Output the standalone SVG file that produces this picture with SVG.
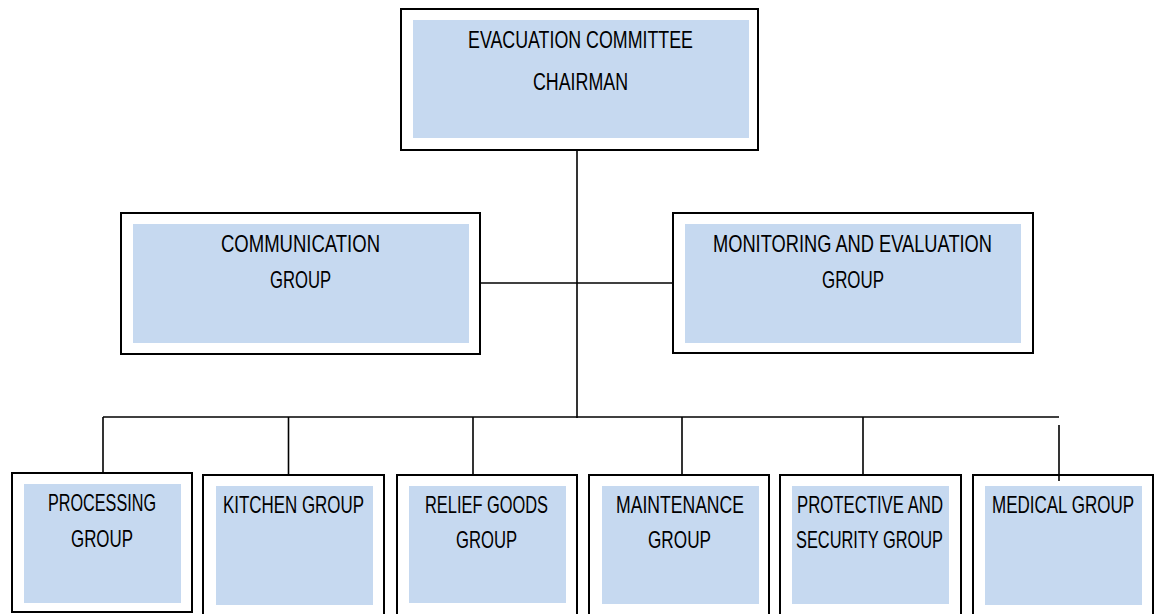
<svg xmlns="http://www.w3.org/2000/svg" width="1157" height="614" viewBox="0 0 1157 614">
<style>
.outer{fill:#fff;stroke:#000;stroke-width:2}
.inner{fill:#c6d9f0;stroke:none}
.t{font-family:"Liberation Sans",Arial,sans-serif;font-size:24px;fill:#000;text-anchor:middle}
.c{stroke:#000;stroke-width:1.6;fill:none}
</style>
<rect width="1157" height="614" fill="#fff"/>
<g id="connectors">
<line class="c" x1="577" y1="150" x2="577" y2="418"/>
<line class="c" x1="480" y1="283" x2="673" y2="283"/>
<line class="c" x1="103" y1="417" x2="1059" y2="417"/>
<line class="c" x1="103" y1="417" x2="103" y2="474"/>
<line class="c" x1="288.5" y1="417" x2="288.5" y2="476"/>
<line class="c" x1="473" y1="417" x2="473" y2="476"/>
<line class="c" x1="682" y1="417" x2="682" y2="476"/>
<line class="c" x1="863" y1="417" x2="863" y2="476"/>
</g>
<g id="chairman">
<rect class="outer" x="401" y="9" width="357" height="141"/>
<rect class="inner" x="413" y="20" width="336" height="118"/>
<text class="t" style="font-size:23px" x="580.5" y="48" textLength="225" lengthAdjust="spacingAndGlyphs">EVACUATION COMMITTEE</text>
<text class="t" style="font-size:23px" x="580.5" y="90" textLength="95" lengthAdjust="spacingAndGlyphs">CHAIRMAN</text>
</g>
<g id="communication">
<rect class="outer" x="121" y="213" width="359" height="141"/>
<rect class="inner" x="133" y="224" width="336" height="119"/>
<text class="t" x="300.5" y="252" textLength="159" lengthAdjust="spacingAndGlyphs">COMMUNICATION</text>
<text class="t" x="300.5" y="288" textLength="61" lengthAdjust="spacingAndGlyphs">GROUP</text>
</g>
<g id="monitoring">
<rect class="outer" x="673" y="213" width="360" height="140"/>
<rect class="inner" x="685" y="224" width="336" height="119"/>
<text class="t" x="852.5" y="252" textLength="279" lengthAdjust="spacingAndGlyphs">MONITORING AND EVALUATION</text>
<text class="t" x="853" y="288" textLength="62" lengthAdjust="spacingAndGlyphs">GROUP</text>
</g>
<g id="processing">
<rect class="outer" x="12" y="473" width="180" height="139"/>
<rect class="inner" x="24" y="484" width="157" height="119"/>
<text class="t" x="102" y="511" textLength="108" lengthAdjust="spacingAndGlyphs">PROCESSING</text>
<text class="t" x="102" y="547" textLength="62" lengthAdjust="spacingAndGlyphs">GROUP</text>
</g>
<g id="kitchen">
<rect class="outer" x="203" y="475" width="181" height="150"/>
<rect class="inner" x="216" y="486" width="157" height="119"/>
<text class="t" x="293.5" y="513" textLength="141" lengthAdjust="spacingAndGlyphs">KITCHEN GROUP</text>
</g>
<g id="relief">
<rect class="outer" x="397" y="475" width="180" height="150"/>
<rect class="inner" x="409" y="486" width="157" height="117"/>
<text class="t" x="486.5" y="513" textLength="123" lengthAdjust="spacingAndGlyphs">RELIEF GOODS</text>
<text class="t" x="486.5" y="548" textLength="61" lengthAdjust="spacingAndGlyphs">GROUP</text>
</g>
<g id="maintenance">
<rect class="outer" x="589" y="475" width="180" height="150"/>
<rect class="inner" x="602" y="486" width="157" height="118"/>
<text class="t" x="680" y="513" textLength="128" lengthAdjust="spacingAndGlyphs">MAINTENANCE</text>
<text class="t" x="679.5" y="548" textLength="63" lengthAdjust="spacingAndGlyphs">GROUP</text>
</g>
<g id="protective">
<rect class="outer" x="780" y="475" width="181" height="150"/>
<rect class="inner" x="792" y="486" width="157" height="118"/>
<text class="t" x="870" y="513" textLength="146" lengthAdjust="spacingAndGlyphs">PROTECTIVE AND</text>
<text class="t" x="869.5" y="548" textLength="147" lengthAdjust="spacingAndGlyphs">SECURITY GROUP</text>
</g>
<g id="medical">
<rect class="outer" x="973" y="475" width="180" height="150"/>
<rect class="inner" x="985" y="486" width="157" height="119"/>
<text class="t" x="1063" y="513" textLength="142" lengthAdjust="spacingAndGlyphs">MEDICAL GROUP</text>
</g>
<g id="medical-link">
<line class="c" x1="1059" y1="425" x2="1059" y2="481"/>
</g>
</svg>
